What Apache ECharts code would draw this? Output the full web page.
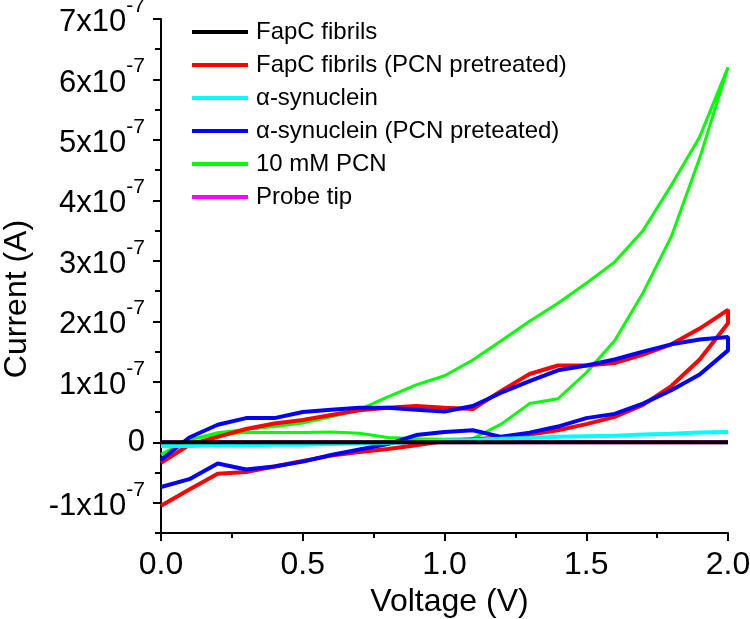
<!DOCTYPE html>
<html>
<head>
<meta charset="utf-8">
<script src="https://cdn.jsdelivr.net/npm/echarts@6/dist/echarts.min.js"></script>
<style>
  html, body { margin: 0; padding: 0; background: #fff; }
  #chart { width: 750px; height: 619px; }
</style>
</head>
<body>
<div id="chart"></div>
<script>
// Voltage sweep points (V)
const voltageUp = [0.0, 0.1, 0.2, 0.3, 0.4, 0.5, 0.6, 0.7, 0.8, 0.9, 1.0, 1.1, 1.2, 1.3, 1.4, 1.5, 1.6, 1.7, 1.8, 1.9, 2.0];
const voltageDown = [2.0, 1.9, 1.8, 1.7, 1.6, 1.5, 1.4, 1.3, 1.2, 1.1, 1.0, 0.9, 0.8, 0.7, 0.6, 0.5, 0.4, 0.3, 0.2, 0.1, 0.0];

// Currents in units of 1e-7 A
const fapcUp = [0, 0, 0, 0, 0, 0, 0, 0, 0, 0, 0, 0, 0, 0, 0, 0, 0, 0, 0, 0, 0];
const fapcPcnUp = [-0.34, -0.04, 0.09, 0.22, 0.31, 0.37, 0.45, 0.53, 0.57, 0.60, 0.57, 0.55, 0.85, 1.13, 1.27, 1.27, 1.31, 1.45, 1.62, 1.88, 2.19];
const fapcPcnDown = [1.97, 1.37, 0.93, 0.62, 0.42, 0.30, 0.20, 0.13, 0.08, 0.05, 0.02, -0.05, -0.11, -0.16, -0.22, -0.31, -0.40, -0.49, -0.52, -0.78, -1.05];
const synUp = [-0.06, -0.06, -0.05, -0.05, -0.04, -0.04, -0.03, -0.02, -0.01, 0.01, 0.03, 0.04, 0.06, 0.07, 0.09, 0.10, 0.11, 0.13, 0.14, 0.16, 0.17];
const synPcnUp = [-0.29, 0.08, 0.29, 0.40, 0.40, 0.50, 0.54, 0.57, 0.57, 0.54, 0.51, 0.60, 0.82, 1.01, 1.19, 1.27, 1.37, 1.50, 1.62, 1.70, 1.74];
const synPcnDown = [1.52, 1.12, 0.86, 0.64, 0.47, 0.40, 0.26, 0.16, 0.09, 0.20, 0.17, 0.12, -0.03, -0.12, -0.21, -0.32, -0.40, -0.45, -0.35, -0.61, -0.74];
const pcnUp = [-0.20, 0.05, 0.13, 0.16, 0.16, 0.16, 0.17, 0.15, 0.08, 0.06, 0.05, 0.06, 0.30, 0.64, 0.72, 1.15, 1.68, 2.47, 3.40, 4.70, 6.20];
const pcnDown = [6.20, 5.05, 4.25, 3.50, 2.98, 2.63, 2.30, 2.00, 1.68, 1.36, 1.10, 0.95, 0.75, 0.54, 0.42, 0.32, 0.26, 0.21, 0.16, 0.04, -0.20];
const probeUp = [0, 0, 0, 0, 0, 0, 0, 0, 0, 0, 0, 0, 0, 0, 0, 0, 0, 0, 0, 0, 0];

const seriesNames = ['FapC fibrils', 'FapC fibrils (PCN pretreated)', 'α-synuclein', 'α-synuclein (PCN preteated)', '10 mM PCN', 'Probe tip'];
const seriesColors = ['#000000', '#ff0000', '#00ffff', '#0000ff', '#00ff00', '#ff00ff'];

const xTicks = [0.0, 0.5, 1.0, 1.5, 2.0];
const yTickLabels = [-1, 0, 1, 2, 3, 4, 5, 6, 7];

function pairs(vs, is) { return vs.map((v, k) => [v, is[k]]); }
function loop(up, down) {
  const d = pairs(voltageUp, up);
  return down ? d.concat(pairs(voltageDown, down)) : d;
}

const FONT = '"Liberation Sans", Arial, Helvetica, sans-serif';
const dataSets = [
  loop(fapcUp),
  loop(fapcPcnUp, fapcPcnDown),
  loop(synUp),
  loop(synPcnUp, synPcnDown),
  loop(pcnUp, pcnDown),
  loop(probeUp)
];
const widths = [4, 4, 4, 4, 3, 4];
const zs = [6, 3, 5, 4, 2, 1];

const chart = echarts.init(document.getElementById('chart'), null, { renderer: 'canvas' });
chart.setOption({
  animation: false,
  backgroundColor: '#ffffff',
  grid: { left: 161, right: 22, top: 19, bottom: 86, containLabel: false, outerBoundsMode: 'none' },
  legend: {
    left: 187, top: 15, orient: 'vertical',
    icon: 'rect',
    itemWidth: 56, itemHeight: 4, itemGap: 9,
    data: seriesNames,
    textStyle: { fontFamily: FONT, fontSize: 24, lineHeight: 24, color: '#000', padding: [0, 0, 0, 3] }
  },
  xAxis: {
    type: 'value', min: 0, max: 2, interval: 0.5,
    name: 'Voltage (V)', nameLocation: 'middle', nameGap: 50,
    nameTextStyle: { fontFamily: FONT, fontSize: 32, color: '#000', padding: [0, 0, 0, 10] },
    axisLine: { show: true, onZero: false, lineStyle: { color: '#000', width: 2 } },
    axisTick: { show: true, inside: false, length: 8, lineStyle: { color: '#000', width: 2 } },
    minorTick: { show: true, splitNumber: 2, length: 5, lineStyle: { color: '#000', width: 2 } },
    splitLine: { show: false },
    axisLabel: {
      fontFamily: FONT, fontSize: 32, color: '#000', margin: 16,
      formatter: v => xTicks.some(t => Math.abs(t - v) < 1e-6) ? v.toFixed(1) : ''
    }
  },
  yAxis: [{
    type: 'value', min: -1.5, max: 7, interval: 0.5,
    name: 'Current (A)', nameLocation: 'middle', nameGap: 128,
    nameTextStyle: { fontFamily: FONT, fontSize: 32, color: '#000', padding: [0, 46, 0, 0] },
    axisLine: { show: true, onZero: false, lineStyle: { color: '#000', width: 2 } },
    axisTick: { show: true, inside: false, length: 6, lineStyle: { color: '#000', width: 2 } },
    splitLine: { show: false },
    axisLabel: {
      margin: 16, color: '#000', fontFamily: FONT,
      formatter: v => {
        const n = Math.round(v * 2) / 2;
        if (!Number.isInteger(n) || yTickLabels.indexOf(n) < 0) return '';
        if (n === 0) return '{z|0}';
        return '{m|' + n + 'x10}{s|-7}';
      },
      rich: {
        z: { fontFamily: FONT, fontSize: 31, color: '#000' },
        m: { fontFamily: FONT, fontSize: 31, color: '#000', padding: [7, 0, 0, 0] },
        s: { fontFamily: FONT, fontSize: 21, color: '#000', padding: [0, 0, 26, 0] }
      }
    }
  }, {
    type: 'value', min: -1.5, max: 7, position: 'left',
    axisLine: { show: false },
    axisTick: { show: true, inside: false, length: 8, customValues: yTickLabels, lineStyle: { color: '#000', width: 2 } },
    axisLabel: { show: false },
    splitLine: { show: false }
  }],
  series: seriesNames.map((name, i) => ({
    name, type: 'line', data: dataSets[i], z: zs[i],
    showSymbol: false, symbol: 'none', smooth: false,
    color: seriesColors[i],
    lineStyle: { color: seriesColors[i], width: widths[i] },
    emphasis: { disabled: true }
  }))
});
</script>
</body>
</html>
